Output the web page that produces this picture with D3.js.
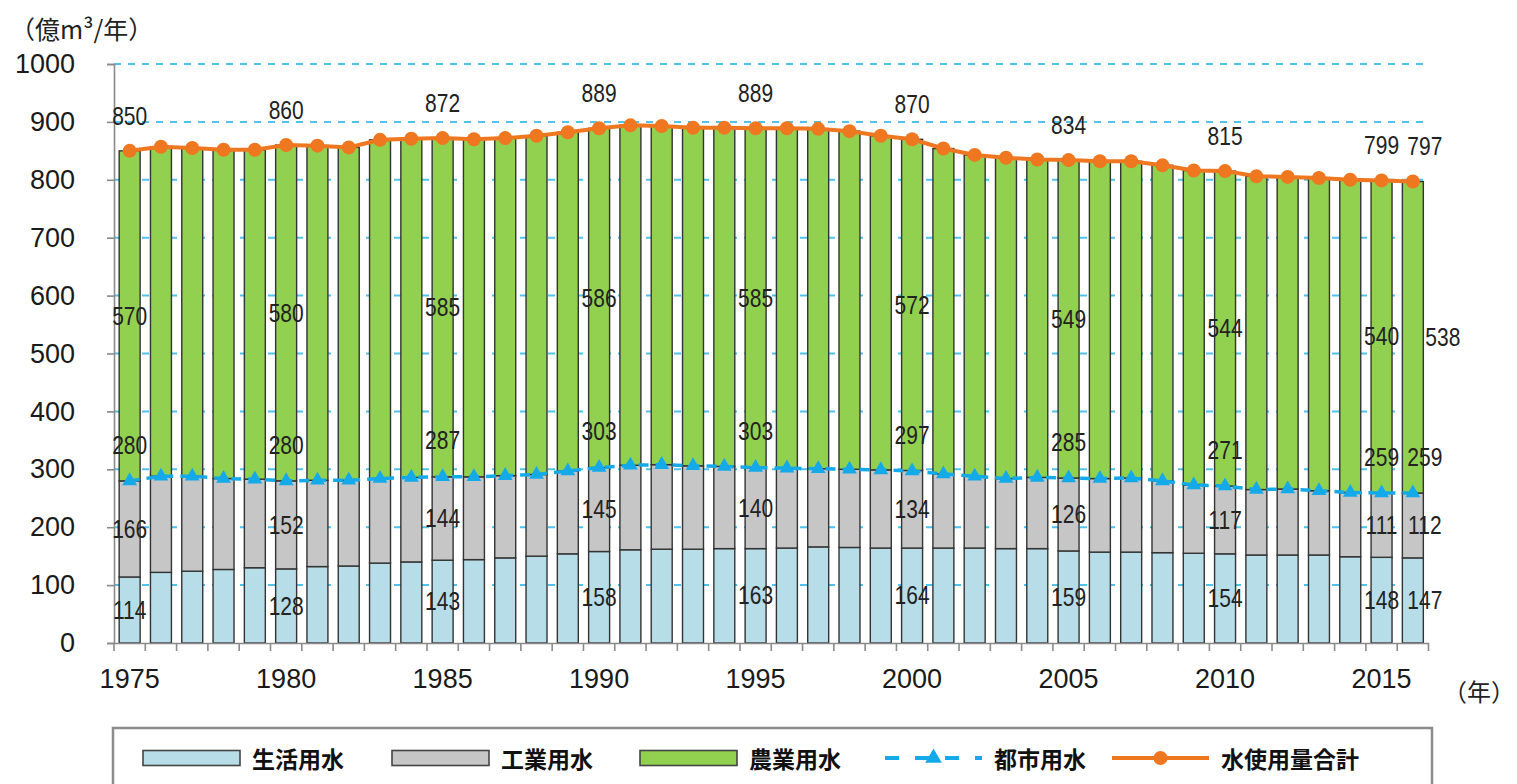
<!DOCTYPE html>
<html>
<head>
<meta charset="utf-8">
<script src="https://cdn.jsdelivr.net/npm/d3@7"></script>
<style>
  body { margin: 0; background: #fff; }
  svg { display: block; }
</style>
</head>
<body>
<svg id="chart" width="1517" height="784"></svg>
<script>
// Water use in Japan by purpose (100 million m3 / year)
const years = [1975, 1976, 1977, 1978, 1979, 1980, 1981, 1982, 1983, 1984,
               1985, 1986, 1987, 1988, 1989, 1990, 1991, 1992, 1993, 1994,
               1995, 1996, 1997, 1998, 1999, 2000, 2001, 2002, 2003, 2004,
               2005, 2006, 2007, 2008, 2009, 2010, 2011, 2012, 2013, 2014,
               2015, 2016];

// 生活用水 (domestic)
const domestic = [114, 122, 124, 127, 130, 128, 132, 133, 138, 140,
                  143, 144, 147, 150, 154, 158, 161, 162, 162, 163,
                  163, 164, 166, 165, 164, 164, 164, 164, 163, 163,
                  159, 157, 157, 156, 155, 154, 152, 152, 152, 149,
                  148, 147];

// 工業用水 (industrial)
const industrial = [166, 166, 164, 157, 153, 152, 149, 148, 146, 146,
                    144, 143, 142, 141, 143, 145, 146, 146, 144, 142,
                    140, 138, 135, 135, 135, 134, 128, 124, 121, 123,
                    126, 127, 128, 124, 118, 117, 113, 114, 111, 111,
                    111, 112];

// 農業用水 (agricultural)
const agricultural = [570, 569, 567, 568, 569, 580, 578, 575, 585, 585,
                      585, 583, 583, 585, 585, 586, 587, 585, 584, 585,
                      585, 587, 587, 584, 577, 572, 562, 555, 554, 549,
                      549, 548, 547, 545, 543, 544, 541, 539, 540, 540,
                      540, 538];

// 都市用水 (domestic + industrial)
const urban = [280, 288, 288, 284, 283, 280, 281, 281, 284, 286,
               287, 287, 289, 291, 297, 303, 307, 308, 306, 305,
               303, 302, 301, 300, 299, 297, 292, 288, 284, 286,
               285, 284, 285, 280, 273, 271, 265, 266, 263, 260,
               259, 259];

// 水使用量合計 (total)
const total = [850, 857, 855, 852, 852, 860, 859, 856, 869, 871,
               872, 870, 872, 876, 882, 889, 894, 893, 890, 890,
               889, 889, 888, 884, 876, 870, 854, 843, 838, 835,
               834, 832, 832, 825, 816, 815, 806, 805, 803, 800,
               799, 797];

const labelYears = [1975, 1980, 1985, 1990, 1995, 2000, 2005, 2010, 2015, 2016];
const xTickYears = [1975, 1980, 1985, 1990, 1995, 2000, 2005, 2010, 2015];
const yTicks = [0, 100, 200, 300, 400, 500, 600, 700, 800, 900, 1000];
const seriesNames = ["生活用水", "工業用水", "農業用水", "都市用水", "水使用量合計"];

const colors = {
  domestic: "#b7dee8",
  industrial: "#c6c6c6",
  agricultural: "#92d050",
  urban: "#14aaea",
  total: "#ee7720",
  grid: "#4fc3ee"
};

const rows = years.map((yr, i) => ({
  year: yr,
  domestic: domestic[i],
  industrial: industrial[i],
  agricultural: agricultural[i],
  urban: urban[i],
  total: total[i]
}));

const svg = d3.select("#chart");
const numFont = "'Liberation Sans', Arial, sans-serif";
const cjkFont = "'Noto Sans CJK JP', 'Noto Sans', sans-serif";

const x = d3.scaleBand()
  .domain(years)
  .range([114, 1428.5])
  .paddingInner(0.33)
  .paddingOuter(0.165);

const y = d3.scaleLinear().domain([0, 1000]).range([643, 64]);
const cx = d => x(d) + x.bandwidth() / 2;

// horizontal dashed gridlines
svg.append("g")
  .selectAll("line")
  .data(yTicks.filter(v => v > 0))
  .join("line")
  .attr("x1", x.range()[0])
  .attr("x2", x.range()[1])
  .attr("y1", d => y(d))
  .attr("y2", d => y(d))
  .attr("stroke", colors.grid)
  .attr("stroke-width", 2)
  .attr("stroke-dasharray", "7,7");

// stacked bars
const keys = ["domestic", "industrial", "agricultural"];
const stacked = d3.stack().keys(keys)(rows);

svg.append("g")
  .selectAll("g")
  .data(stacked)
  .join("g")
  .attr("fill", d => colors[d.key])
  .selectAll("rect")
  .data(d => d)
  .join("rect")
  .attr("x", d => x(d.data.year))
  .attr("width", x.bandwidth())
  .attr("y", d => y(d[1]))
  .attr("height", d => y(d[0]) - y(d[1]))
  .attr("stroke", "#333")
  .attr("stroke-width", 1.4);

// y axis
const yAxis = svg.append("g")
  .attr("transform", `translate(${x.range()[0]},0)`)
  .call(d3.axisLeft(y).tickValues(yTicks).tickSize(7).tickPadding(32).tickFormat(d3.format("d")));
yAxis.select(".domain").attr("stroke", "#8a8a8a").attr("stroke-width", 1.6);
yAxis.selectAll(".tick line").attr("stroke", "#8a8a8a").attr("stroke-width", 1.6);
yAxis.selectAll("text")
  .attr("font-family", numFont)
  .attr("font-size", 27)
  .attr("fill", "#1a1a1a");

// x axis
const xAxis = svg.append("g")
  .attr("transform", `translate(0,${y(0)})`)
  .call(d3.axisBottom(x).tickValues(xTickYears).tickSize(0).tickPadding(26));
xAxis.select(".domain").attr("stroke", "#8a8a8a").attr("stroke-width", 1.6);
xAxis.selectAll("text")
  .attr("font-family", numFont)
  .attr("font-size", 27)
  .attr("fill", "#1a1a1a");

// category boundary ticks
const gap = (x.step() - x.bandwidth()) / 2;
const boundaries = years.map(yr => x(yr) - gap).concat([x(years[years.length - 1]) + x.bandwidth() + gap]);
svg.append("g")
  .selectAll("line")
  .data(boundaries)
  .join("line")
  .attr("x1", d => d)
  .attr("x2", d => d)
  .attr("y1", y(0))
  .attr("y2", y(0) + 8)
  .attr("stroke", "#8a8a8a")
  .attr("stroke-width", 1.6);

// 都市用水 line
svg.append("path")
  .datum(rows)
  .attr("fill", "none")
  .attr("stroke", colors.urban)
  .attr("stroke-width", 3.5)
  .attr("stroke-dasharray", "10,7")
  .attr("d", d3.line().x(d => cx(d.year)).y(d => y(d.urban)));

const triangle = d3.symbol().type(d3.symbolTriangle).size(95);
svg.append("g")
  .selectAll("path")
  .data(rows)
  .join("path")
  .attr("transform", d => `translate(${cx(d.year)},${y(d.urban)})`)
  .attr("d", triangle())
  .attr("fill", colors.urban);

// 水使用量合計 line
svg.append("path")
  .datum(rows)
  .attr("fill", "none")
  .attr("stroke", colors.total)
  .attr("stroke-width", 4)
  .attr("d", d3.line().x(d => cx(d.year)).y(d => y(d.total)));

svg.append("g")
  .selectAll("circle")
  .data(rows)
  .join("circle")
  .attr("cx", d => cx(d.year))
  .attr("cy", d => y(d.total))
  .attr("r", 7)
  .attr("fill", colors.total);

// value labels (slightly condensed digits)
const labelled = rows.filter(d => labelYears.includes(d.year));
const lastYear = years[years.length - 1];
const shift = (d, far) => d.year === lastYear ? (far ? 30 : 12) : 0;

const labelSpecs = [
  { key: "domestic", pos: d => y(d.domestic / 2), far: false },
  { key: "industrial", pos: d => y(d.domestic + d.industrial / 2), far: false },
  { key: "agricultural", pos: d => y(d.domestic + d.industrial + d.agricultural / 2), far: true },
  { key: "urban", pos: d => y(d.urban) - 36, far: false },
  { key: "total", pos: d => y(d.total) - 35, far: false }
];

const labelLayer = svg.append("g")
  .attr("font-family", numFont)
  .attr("font-size", 25)
  .attr("fill", "#222")
  .attr("text-anchor", "middle")
  .attr("dominant-baseline", "central");

labelSpecs.forEach(spec => {
  labelLayer.append("g")
    .selectAll("text")
    .data(labelled)
    .join("text")
    .attr("transform", d => `translate(${cx(d.year) + shift(d, spec.far)},${spec.pos(d)}) scale(0.84,1)`)
    .text(d => d[spec.key]);
});

// unit captions
svg.append("text")
  .attr("x", 10)
  .attr("y", 28)
  .attr("font-family", cjkFont)
  .attr("font-size", 25)
  .attr("fill", "#222")
  .attr("dominant-baseline", "central")
  .text("（億m³/年）");

svg.append("text")
  .attr("x", 1515)
  .attr("y", 690)
  .attr("text-anchor", "end")
  .attr("font-family", cjkFont)
  .attr("font-size", 24)
  .attr("fill", "#222")
  .attr("dominant-baseline", "central")
  .text("（年）");

// legend
const legend = svg.append("g");
legend.append("rect")
  .attr("x", 113).attr("y", 728)
  .attr("width", 1319).attr("height", 70)
  .attr("fill", "#fff")
  .attr("stroke", "#8c8c8c")
  .attr("stroke-width", 2.5);

const legendX = [143, 392, 640, 885, 1112];
const legendY = 758;
const swatchW = 97;
const legendKinds = ["domestic", "industrial", "agricultural", "urban", "total"];

legendKinds.forEach((k, i) => {
  const g = legend.append("g").attr("transform", `translate(${legendX[i]},${legendY})`);
  if (i < 3) {
    g.append("rect")
      .attr("x", 0).attr("y", -7.5)
      .attr("width", swatchW).attr("height", 15)
      .attr("fill", colors[k])
      .attr("stroke", "#444")
      .attr("stroke-width", 1.6);
  } else if (k === "urban") {
    g.append("line")
      .attr("x1", 0).attr("x2", swatchW)
      .attr("stroke", colors.urban)
      .attr("stroke-width", 4)
      .attr("stroke-dasharray", "14,16");
    g.append("path")
      .attr("transform", `translate(${swatchW / 2},0)`)
      .attr("d", d3.symbol().type(d3.symbolTriangle).size(120)())
      .attr("fill", colors.urban);
  } else {
    g.append("line")
      .attr("x1", 0).attr("x2", swatchW)
      .attr("stroke", colors.total)
      .attr("stroke-width", 4);
    g.append("circle")
      .attr("cx", swatchW / 2).attr("r", 7)
      .attr("fill", colors.total);
  }
  g.append("text")
    .attr("x", swatchW + 12)
    .attr("y", 0)
    .attr("font-family", cjkFont)
    .attr("font-weight", "bold")
    .attr("font-size", 23)
    .attr("fill", "#111")
    .attr("dominant-baseline", "central")
    .text(seriesNames[i]);
});
</script>
</body>
</html>
